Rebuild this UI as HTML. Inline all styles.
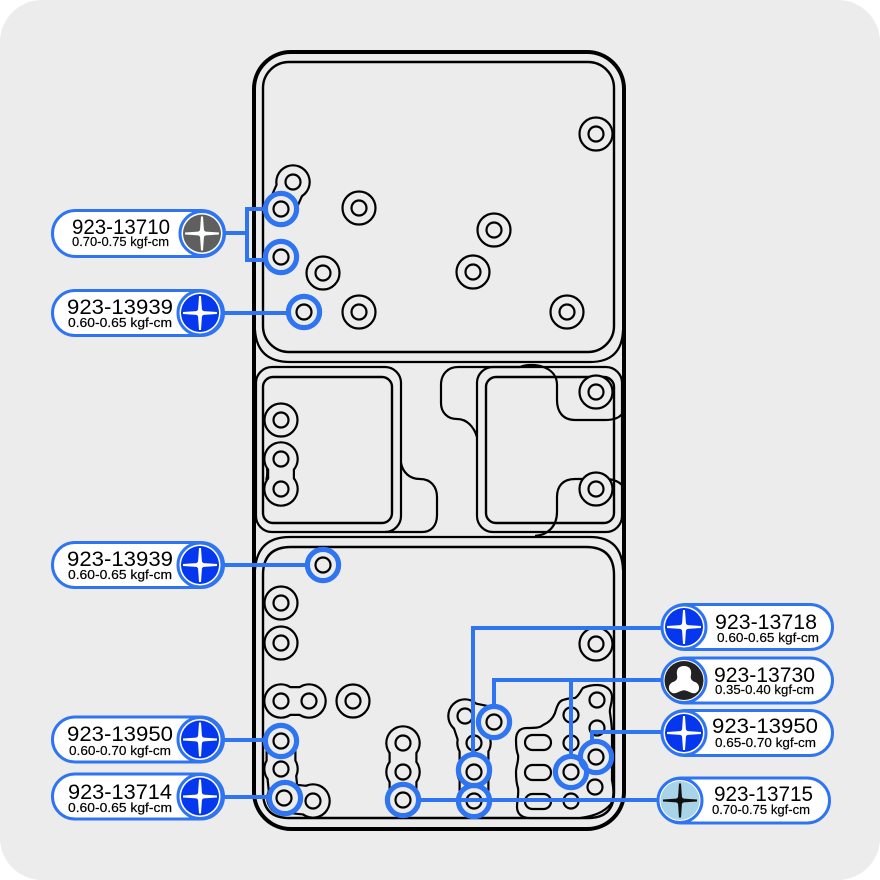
<!DOCTYPE html>
<html><head><meta charset="utf-8"><style>
html,body{margin:0;padding:0;background:#fff}
svg{display:block}
text{font-family:"Liberation Sans",sans-serif;fill:#000}
.m{font-size:21px}
.s{font-size:13px;font-weight:400;stroke:#000;stroke-width:.2px}
</style></head><body>
<svg width="880" height="880" viewBox="0 0 880 880" xmlns="http://www.w3.org/2000/svg">
<defs>
<g id="cross">
<path d="M-1-17 L1-17 L1.9-4 Q2.2-2.2 4-1.9 L17-1 L17 1 L4 1.9 Q2.2 2.2 1.9 4 L1 17 L-1 17 L-1.9 4 Q-2.2 2.2 -4 1.9 L-17 1 L-17-1 L-4-1.9 Q-2.2-2.2 -1.9-4Z"/>
</g>
</defs>
<rect width="880" height="880" fill="#fff"/>
<rect x="0" y="0" width="880" height="880" rx="42" fill="#ececec"/>

<!-- frame -->
<g fill="none" stroke="#000" stroke-width="2.2">
<rect x="254" y="52" width="370" height="777" rx="37" stroke-width="4"/>
<rect x="263" y="62" width="351" height="290" rx="26" stroke-width="2.4"/>
<path d="M255 330 Q257 362 290 362 H590 Q622 362 623 330"/>
<rect x="256" y="367" width="145" height="165" rx="16" />
<rect x="263" y="377" width="129" height="146" rx="10" stroke-width="2.4"/>
<rect x="477" y="367" width="145" height="165" rx="16"/>
<rect x="486" y="377" width="128" height="146" rx="10" stroke-width="2.4"/>
<path d="M255 570 Q257 537 290 537 H590 Q622 537 623 570"/>
<path d="M263 575 Q263 547 291 547 H586 Q614 547 614 575 V792 Q614 818 588 818 H289 Q263 818 263 792 Z" stroke-width="2.4"/>
<path d="M477 437 C474 427 467 419 457 419 C447 419 441 412 441 403 V385 C441 374 448 367 458 367 H520 C533 362 557 366 557 385 V400 C557 412 563 420 575 420 H605 C613 420 619 418 622 414"/>
<path d="M622 485 C618 481 612 479 605 479 H575 C563 479 557 486 557 497 V512 C557 526 548 535 535 536"/>
<path d="M401 463 C403 473 410 479 420 479 C431 479 437 487 437 497 V515 C437 526 431 532 422 532 H385"/>
<path d="M266 464 Q268 472 266 480" stroke-width="1.6"/>
</g>

<!-- union blobs: black under, bg over -->
<g fill="#000" stroke="#000" stroke-linecap="round" stroke-linejoin="round" stroke-width="0">
<circle cx="293" cy="182" r="17.8"/><circle cx="281" cy="209" r="17.8"/><line x1="293" y1="182" x2="281" y2="209" stroke-width="30"/>
<circle cx="281" cy="459" r="17.8"/><circle cx="281" cy="489" r="17.8"/><line x1="281" y1="459" x2="281" y2="489" stroke-width="28"/>
<circle cx="281" cy="701" r="17.8"/><circle cx="309" cy="701" r="17.8"/><line x1="281" y1="701" x2="309" y2="701" stroke-width="30"/>
<circle cx="281" cy="741" r="17.8"/><circle cx="281" cy="769" r="17.8"/><circle cx="284" cy="798" r="17.8"/><circle cx="313" cy="801" r="17.8"/><path d="M281 741 L281 769 L284 798 L313 801" fill="none" stroke-width="31"/>
<circle cx="403" cy="743" r="17.8"/><circle cx="403" cy="772" r="17.8"/><circle cx="403" cy="800" r="17.8"/><line x1="403" y1="743" x2="403" y2="800" stroke-width="29"/>
<circle cx="465" cy="716" r="17.8"/><circle cx="494" cy="722" r="17.8"/><circle cx="474" cy="743" r="17.8"/><circle cx="474" cy="772" r="17.8"/><circle cx="474" cy="801" r="17.8"/><path d="M465 716 L474 743 L474 801 M465 716 L494 722" fill="none" stroke-width="31"/>
</g>
<g fill="#ececec" stroke="#ececec" stroke-linecap="round" stroke-linejoin="round" stroke-width="0">
<circle cx="293" cy="182" r="15.6"/><circle cx="281" cy="209" r="15.6"/><line x1="293" y1="182" x2="281" y2="209" stroke-width="25.6"/>
<circle cx="281" cy="459" r="15.6"/><circle cx="281" cy="489" r="15.6"/><line x1="281" y1="459" x2="281" y2="489" stroke-width="23.6"/>
<circle cx="281" cy="701" r="15.6"/><circle cx="309" cy="701" r="15.6"/><line x1="281" y1="701" x2="309" y2="701" stroke-width="25.6"/>
<circle cx="281" cy="741" r="15.6"/><circle cx="281" cy="769" r="15.6"/><circle cx="284" cy="798" r="15.6"/><circle cx="313" cy="801" r="15.6"/><path d="M281 741 L281 769 L284 798 L313 801" fill="none" stroke-width="26.6"/>
<circle cx="403" cy="743" r="15.6"/><circle cx="403" cy="772" r="15.6"/><circle cx="403" cy="800" r="15.6"/><line x1="403" y1="743" x2="403" y2="800" stroke-width="24.6"/>
<circle cx="465" cy="716" r="15.6"/><circle cx="494" cy="722" r="15.6"/><circle cx="474" cy="743" r="15.6"/><circle cx="474" cy="772" r="15.6"/><circle cx="474" cy="801" r="15.6"/><path d="M465 716 L474 743 L474 801 M465 716 L494 722" fill="none" stroke-width="26.6"/>
</g>

<!-- large lower-right blob -->
<path d="M597 685 C606 685 612 690 612 697 C612 705 609 708 610 713 C611 720 612 726 612 733 C612 750 612 765 612 780 C614 790 614 797 611 804 C604 812 595 816 580 818 H530 C522 818 517 814 517 807 C517 800 519 795 518 788 C516 782 516 777 516 772 C516 766 519 761 518 755 C516 750 516 745 516 740 C516 732 520 728 527 728 C534 728 540 728 543 725 C550 722 553 718 555 713 C557 706 559 701 563 700 C569 698 573 698 575 698 C579 696 581 690 583 688 C587 686 592 685 597 685Z" fill="#ececec" stroke="#000" stroke-width="2.2"/>

<!-- holes -->
<g fill="#ececec" stroke="#000" stroke-width="2.2">
<g>
<circle cx="596" cy="134" r="16.5"/>
<circle cx="359" cy="208" r="16.5"/><circle cx="494" cy="230" r="16.5"/><circle cx="323" cy="273" r="16.5"/><circle cx="473" cy="272" r="16.5"/><circle cx="359" cy="312" r="16.5"/><circle cx="567" cy="312" r="16.5"/>
<circle cx="281" cy="257" r="16.5"/><circle cx="304" cy="312" r="16.5"/>
<circle cx="596" cy="392" r="16.5"/><circle cx="596" cy="489" r="16.5"/><circle cx="281" cy="420" r="16.5"/>
<circle cx="323" cy="565" r="16.5"/><circle cx="281" cy="603" r="16.5"/><circle cx="281" cy="643" r="16.5"/><circle cx="596" cy="644" r="16.5"/><circle cx="353" cy="701" r="16.5"/>
</g>
<g>
<circle cx="596" cy="134" r="7.5"/><circle cx="293" cy="182" r="7.5"/><circle cx="281" cy="209" r="7.5"/>
<circle cx="359" cy="208" r="7.5"/><circle cx="494" cy="230" r="7.5"/><circle cx="323" cy="273" r="7.5"/><circle cx="473" cy="272" r="7.5"/><circle cx="359" cy="312" r="7.5"/><circle cx="567" cy="312" r="7.5"/>
<circle cx="281" cy="257" r="7.5"/><circle cx="304" cy="312" r="7.5"/>
<circle cx="596" cy="392" r="7.5"/><circle cx="596" cy="489" r="7.5"/><circle cx="281" cy="420" r="7.5"/><circle cx="281" cy="459" r="7.5"/><circle cx="281" cy="489" r="7.5"/>
<circle cx="323" cy="565" r="7.5"/><circle cx="281" cy="603" r="7.5"/><circle cx="281" cy="643" r="7.5"/><circle cx="596" cy="644" r="7.5"/>
<circle cx="281" cy="701" r="7.5"/><circle cx="309" cy="701" r="7.5"/><circle cx="353" cy="701" r="7.5"/>
<circle cx="281" cy="741" r="7.5"/><circle cx="281" cy="769" r="7.5"/><circle cx="284" cy="798" r="7.5"/><circle cx="313" cy="801" r="7.5"/>
<circle cx="403" cy="743" r="7.5"/><circle cx="403" cy="772" r="7.5"/><circle cx="403" cy="800" r="7.5"/>
<circle cx="465" cy="716" r="7.5"/><circle cx="494" cy="722" r="7.5"/><circle cx="474" cy="743" r="7.5"/><circle cx="474" cy="772" r="7.5"/><circle cx="474" cy="801" r="7.5"/>
<circle cx="597" cy="700" r="7.5"/><circle cx="597" cy="728" r="7.5"/><circle cx="596" cy="757" r="7.5"/><circle cx="595" cy="787" r="7.5"/>
<circle cx="571" cy="715" r="7.5"/><circle cx="571" cy="743" r="7.5"/><circle cx="571" cy="772" r="7.5"/><circle cx="571" cy="801" r="7.5"/>
</g>
<rect x="525" y="735" width="26" height="15" rx="7.5"/><rect x="525" y="765" width="26" height="15" rx="7.5"/><rect x="525" y="794" width="26" height="15" rx="7.5"/>
</g>

<!-- connectors -->
<g fill="none" stroke="#2f74f0" stroke-width="4">
<path d="M225 233 H247 M266 209 H247 V260 H266"/>
<path d="M224 313 H290"/>
<path d="M224 565 H309"/>
<path d="M224 740 H267"/>
<path d="M224 797 H270"/>
<path d="M662 628 H473 V755"/>
<path d="M662 680 H494 V708"/>
<path d="M571 680 V758"/>
<path d="M662 732 H592 V742"/>
<path d="M658 800 H417"/>
<g stroke-width="5.2">
<circle cx="281" cy="209" r="15.6"/><circle cx="281" cy="257" r="15.6"/><circle cx="304" cy="312" r="15.6"/>
<circle cx="323" cy="565" r="15.6"/>
<circle cx="281" cy="741" r="15.6"/><circle cx="285" cy="798" r="15.6"/>
<circle cx="403" cy="800" r="15.6"/><circle cx="474" cy="801" r="15.6"/><circle cx="474" cy="770" r="15.6"/>
<circle cx="494" cy="722" r="15.6"/><circle cx="571" cy="772" r="15.6"/><circle cx="596" cy="757" r="15.6"/>
</g>
</g>

<!-- pills -->
<g fill="#fff" stroke="#2f74f0" stroke-width="3">
<rect x="52.5" y="210.5" width="172" height="46" rx="23"/>
<rect x="52.5" y="290.5" width="171" height="45" rx="22.5"/>
<rect x="52.5" y="542.5" width="171" height="45" rx="22.5"/>
<rect x="52.5" y="717" width="171" height="45" rx="22.5"/>
<rect x="52.5" y="774" width="171" height="45" rx="22.5"/>
<rect x="662.5" y="604.5" width="170" height="45" rx="22.5"/>
<rect x="662.5" y="658" width="170" height="45" rx="22.5"/>
<rect x="662.5" y="710.5" width="170" height="45" rx="22.5"/>
<rect x="658.5" y="778" width="171" height="45" rx="22.5"/>
<circle cx="202" cy="233.5" r="22"/>
<circle cx="200" cy="313" r="22"/>
<circle cx="200" cy="565" r="22"/>
<circle cx="200" cy="739.5" r="22"/>
<circle cx="200" cy="796.5" r="22"/>
<circle cx="684" cy="627" r="22"/>
<circle cx="684" cy="680.5" r="22"/>
<circle cx="684" cy="733" r="22"/>
<circle cx="680" cy="800.5" r="22"/>
</g>
<!-- icons -->
<circle cx="202" cy="233.5" r="19" fill="#5f5f5f"/><use href="#cross" transform="translate(202 233.5)" fill="#fff"/>
<g fill="#0437ee">
<circle cx="200" cy="313" r="19"/><circle cx="200" cy="565" r="19"/><circle cx="200" cy="739.5" r="19"/><circle cx="200" cy="796.5" r="19"/><circle cx="684" cy="627" r="19"/><circle cx="684" cy="733" r="19"/>
</g>
<g fill="#fff">
<use href="#cross" transform="translate(200 313)"/><use href="#cross" transform="translate(200 565)"/><use href="#cross" transform="translate(200 739.5)"/><use href="#cross" transform="translate(200 796.5)"/><use href="#cross" transform="translate(684 627)"/><use href="#cross" transform="translate(684 733)"/>
</g>
<circle cx="684" cy="680.5" r="19.5" fill="#222"/>
<path d="M684 666 C689 666 692 669 691 675 C690 679 692 681 695 682 C700 684 700 690 697 692 C694 695 690 692 687 691 C685 690 683 690 681 691 C678 692 674 695 671 692 C668 690 668 684 673 682 C676 681 678 679 677 675 C676 669 679 666 684 666Z" fill="#fff"/>
<circle cx="680" cy="800.5" r="19.5" fill="#a9d3e6"/>
<use href="#cross" transform="translate(680 800.5)" fill="#111"/>

<!-- text -->
<text class="m" x="72" y="234" textLength="98" lengthAdjust="spacingAndGlyphs">923-13710</text>
<text class="s" x="72" y="246" textLength="97" lengthAdjust="spacingAndGlyphs">0.70-0.75 kgf-cm</text>
<text class="m" x="67" y="314" textLength="106" lengthAdjust="spacingAndGlyphs">923-13939</text>
<text class="s" x="68" y="327" textLength="104" lengthAdjust="spacingAndGlyphs">0.60-0.65 kgf-cm</text>
<text class="m" x="67" y="566" textLength="106" lengthAdjust="spacingAndGlyphs">923-13939</text>
<text class="s" x="68" y="579" textLength="104" lengthAdjust="spacingAndGlyphs">0.60-0.65 kgf-cm</text>
<text class="m" x="67" y="741" textLength="106" lengthAdjust="spacingAndGlyphs">923-13950</text>
<text class="s" x="69" y="755" textLength="102" lengthAdjust="spacingAndGlyphs">0.60-0.70 kgf-cm</text>
<text class="m" x="68" y="799" textLength="104" lengthAdjust="spacingAndGlyphs">923-13714</text>
<text class="s" x="68" y="812" textLength="104" lengthAdjust="spacingAndGlyphs">0.60-0.65 kgf-cm</text>
<text class="m" x="715" y="629" textLength="102" lengthAdjust="spacingAndGlyphs">923-13718</text>
<text class="s" x="717" y="642" textLength="102" lengthAdjust="spacingAndGlyphs">0.60-0.65 kgf-cm</text>
<text class="m" x="714" y="682" textLength="101" lengthAdjust="spacingAndGlyphs">923-13730</text>
<text class="s" x="715" y="694" textLength="99" lengthAdjust="spacingAndGlyphs">0.35-0.40 kgf-cm</text>
<text class="m" x="712" y="733" textLength="106" lengthAdjust="spacingAndGlyphs">923-13950</text>
<text class="s" x="715" y="747" textLength="101" lengthAdjust="spacingAndGlyphs">0.65-0.70 kgf-cm</text>
<text class="m" x="714" y="801" textLength="99" lengthAdjust="spacingAndGlyphs">923-13715</text>
<text class="s" x="712" y="814" textLength="98" lengthAdjust="spacingAndGlyphs">0.70-0.75 kgf-cm</text>
</svg>
</body></html>
